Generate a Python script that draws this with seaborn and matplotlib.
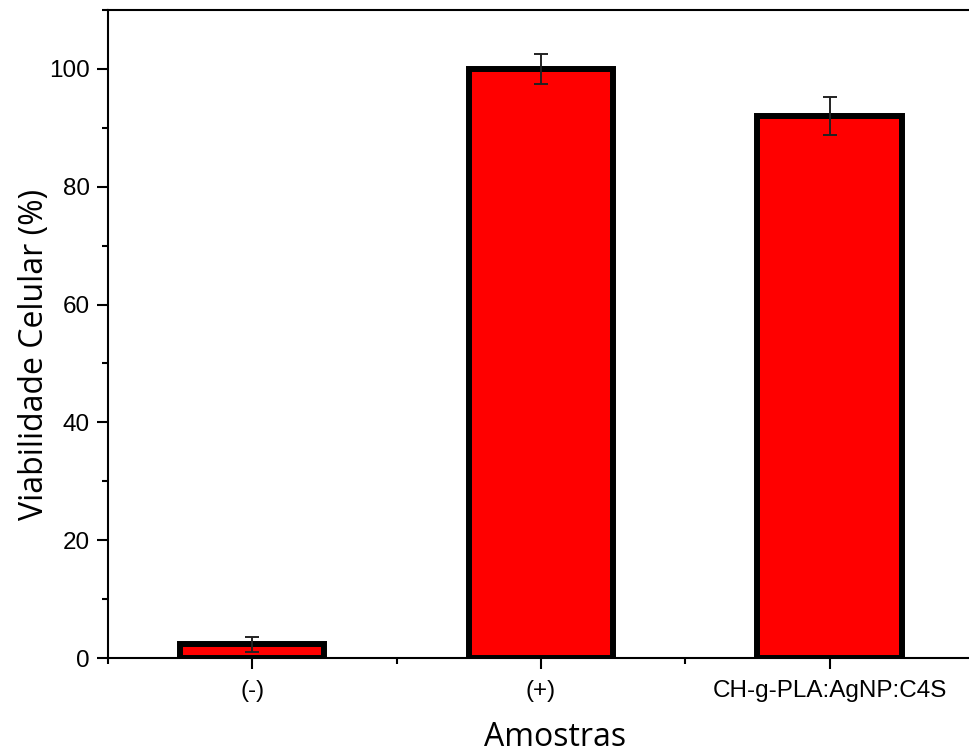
import matplotlib
matplotlib.use("Agg")
import matplotlib.pyplot as plt
import seaborn as sns
import numpy as np
from matplotlib.ticker import MultipleLocator, FixedLocator

# Cell viability per sample
amostras = ["(-)", "(+)", "CH-g-PLA:AgNP:C4S"]
viabilidade = [2.3, 100.0, 92.0]
desvio = [1.2, 2.6, 3.2]

sns.set_style("ticks")
plt.rcParams["font.family"] = ["Liberation Sans", "DejaVu Sans"]

fig = plt.figure(figsize=(9.7, 7.56), dpi=100)
ax = fig.add_axes([0.1113, 0.1296, 0.8927, 0.8572])

sns.barplot(x=amostras, y=viabilidade, color="#ff0000", edgecolor="black",
            linewidth=4.3, width=0.5, saturation=1, errorbar=None, ax=ax)
ax.errorbar(np.arange(len(amostras)), viabilidade, yerr=desvio, fmt="none",
            ecolor="#222222", elinewidth=1.4, capsize=5, capthick=1.4, zorder=5)

ax.set_xlim(-0.5, 2.5)
ax.set_ylim(0, 110)
ax.yaxis.set_major_locator(MultipleLocator(20))
ax.yaxis.set_minor_locator(MultipleLocator(10))
ax.xaxis.set_minor_locator(FixedLocator([-0.5, 0.5, 1.5, 2.5]))

for s in ax.spines.values():
    s.set_linewidth(1.5)
    s.set_color("black")
    s.set_visible(True)

ax.tick_params(axis="both", which="major", direction="out", length=8, width=1.5,
               labelsize=17.5, colors="black")
ax.tick_params(axis="both", which="minor", direction="out", length=4.5, width=1.5,
               colors="black")
ax.tick_params(axis="x", which="major", pad=8)
ax.tick_params(axis="y", which="major", pad=5)

ax.set_xlabel("Amostras", fontsize=23, color="black",
              family=["Open Sans", "DejaVu Sans"])
ax.set_ylabel("Viabilidade Celular (%)", fontsize=23, color="black",
              family=["Open Sans", "DejaVu Sans"])
ax.xaxis.set_label_coords(0.516, -0.097)
ax.yaxis.set_label_coords(-0.066, 0.468)

fig.savefig("out.png", dpi=100)
